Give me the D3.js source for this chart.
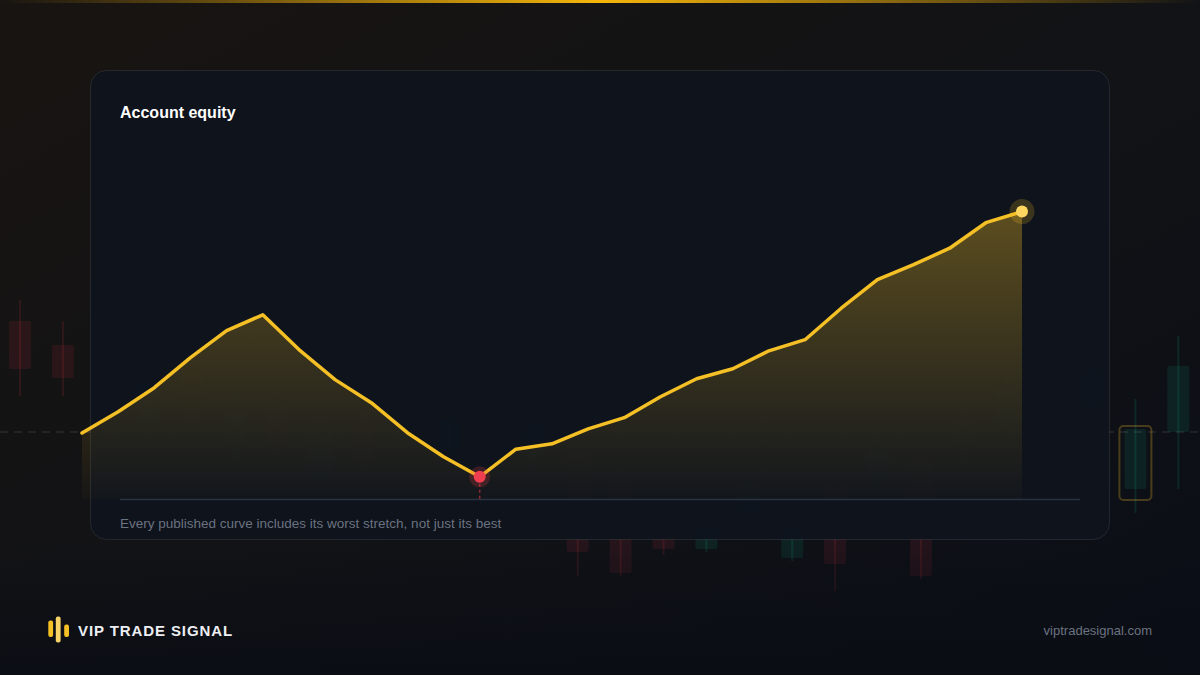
<!DOCTYPE html>
<html>
<head>
<meta charset="utf-8">
<script src="https://cdn.jsdelivr.net/npm/d3@7"></script>
<style>
html,body{margin:0;padding:0;background:#0c0f15;}
svg{display:block;}
text{font-family:"Liberation Sans",Arial,Helvetica,sans-serif;}
</style>
</head>
<body>
<svg id="chart" width="1200" height="675"></svg>
<script>
// ---------- DATA ----------
const title = "Account equity";
const footnote = "Every published curve includes its worst stretch, not just its best";
const brand = "VIP TRADE SIGNAL";
const site = "viptradesignal.com";

// equity curve (index = period, value = % of starting equity)
const periods = d3.range(27);
const equity = [100, 107.1, 115.1, 125.1, 134.1, 139.4, 127.8, 117.8, 110.1, 100.1, 92.1, 85.4,
                94.6, 96.4, 101.4, 105.1, 112.1, 118.1, 121.4, 127.4, 131.1, 141.6, 151.1, 156.1,
                161.6, 170.1, 173.8];

// decorative background candles (price units)
const candleOpen  = [193, 185, 170, 160, 176, 150, 165, 140, 158, 172, 150, 162, 148, 150, 140, 122, 117, 130, 114, 138, 140, 146, 150, 160, 170, 165, 137, 156];
const candleClose = [177, 174, 160, 172, 165, 162, 152, 155, 146, 160, 160, 150, 158, 116, 109, 117, 124, 138, 124, 112, 150, 108, 160, 170, 162, 176, 157, 178];
const candleHigh  = [200, 193, 176, 178, 182, 168, 170, 160, 162, 178, 166, 168, 164, 154, 144, 125, 127, 142, 127, 142, 156, 150, 166, 176, 175, 182, 167, 188];
const candleLow   = [168, 168, 154, 155, 160, 145, 148, 136, 140, 154, 146, 144, 142, 108, 108, 115, 116, 126, 113, 103, 136, 107, 146, 156, 156, 160, 129, 137];
const currentPrice = 156;

// ---------- SETUP ----------
const W = 1200, H = 675;
const svg = d3.select("#chart");
const defs = svg.append("defs");

const bgGrad = defs.append("linearGradient").attr("id","bg")
  .attr("x1","0").attr("y1","0").attr("x2","1").attr("y2","1");
bgGrad.append("stop").attr("offset","0").attr("stop-color","#181411");
bgGrad.append("stop").attr("offset","0.5").attr("stop-color","#121316");
bgGrad.append("stop").attr("offset","1").attr("stop-color","#0a0e16");

const topGrad = defs.append("linearGradient").attr("id","topline")
  .attr("x1","0").attr("y1","0").attr("x2","1").attr("y2","0");
topGrad.append("stop").attr("offset","0").attr("stop-color","#f5b50a").attr("stop-opacity",0);
topGrad.append("stop").attr("offset","0.5").attr("stop-color","#f5b50a").attr("stop-opacity",1);
topGrad.append("stop").attr("offset","1").attr("stop-color","#f5b50a").attr("stop-opacity",0);

const bottomShade = defs.append("linearGradient").attr("id","bottomShade")
  .attr("x1","0").attr("y1","0").attr("x2","0").attr("y2","1");
bottomShade.append("stop").attr("offset","0").attr("stop-color","#0a0d14").attr("stop-opacity",0);
bottomShade.append("stop").attr("offset","1").attr("stop-color","#0a0d14").attr("stop-opacity",0.9);

svg.append("rect").attr("width",W).attr("height",H).attr("fill","url(#bg)");

// ---------- BACKGROUND CANDLES ----------
const bgX = d3.scaleLinear().domain([0, 27]).range([20, 20 + 42.9*27]);
const bgY = d3.scaleLinear().domain([100, 200]).range([600, 300]);
const bgG = svg.append("g");

const candles = candleOpen.map((o,i)=>({i, o, c:candleClose[i], h:candleHigh[i], l:candleLow[i]}));
const cg = bgG.selectAll("g.candle").data(candles).join("g");
cg.append("line")
  .attr("x1",d=>bgX(d.i)).attr("x2",d=>bgX(d.i))
  .attr("y1",d=>bgY(d.h)).attr("y2",d=>bgY(d.l))
  .attr("stroke",d=>d.c>=d.o?"#12a57a":"#c53040")
  .attr("stroke-opacity",0.16).attr("stroke-width",2);
cg.append("rect")
  .attr("x",d=>bgX(d.i)-11).attr("width",22)
  .attr("y",d=>bgY(Math.max(d.o,d.c)))
  .attr("height",d=>Math.max(3,Math.abs(bgY(d.o)-bgY(d.c))))
  .attr("rx",2)
  .attr("fill",d=>d.c>=d.o?"#12a57a":"#c53040")
  .attr("fill-opacity",0.13);

// highlight on candle 26
const hl = candles[26];
bgG.append("rect")
  .attr("x",bgX(26)-16).attr("width",32)
  .attr("y",bgY(Math.max(hl.o,hl.c))-3)
  .attr("height",Math.abs(bgY(hl.o)-bgY(hl.c))+14)
  .attr("rx",4).attr("fill","none")
  .attr("stroke","#c99a2a").attr("stroke-opacity",0.32).attr("stroke-width",2);

// current price dashed line
bgG.append("line")
  .attr("x1",0).attr("x2",W).attr("y1",bgY(currentPrice)).attr("y2",bgY(currentPrice))
  .attr("stroke","#ffffff").attr("stroke-opacity",0.1).attr("stroke-dasharray","8,6").attr("stroke-width",1.5);

svg.append("rect").attr("x",0).attr("y",540).attr("width",W).attr("height",135).attr("fill","url(#bottomShade)");

// top gold line
svg.append("rect").attr("x",0).attr("y",0).attr("width",W).attr("height",3).attr("fill","url(#topline)");

// ---------- PANEL ----------
svg.append("rect")
  .attr("x",90.5).attr("y",70.5).attr("width",1019).attr("height",469).attr("rx",16)
  .attr("fill","#0e141d").attr("fill-opacity",0.97)
  .attr("stroke","#ffffff").attr("stroke-opacity",0.09).attr("stroke-width",1);

svg.append("text").attr("x",120).attr("y",118)
  .attr("fill","#ffffff").attr("font-size",16).attr("font-weight",700)
  .text(title);

svg.append("text").attr("x",120).attr("y",527.8)
  .attr("fill","#6b7280").attr("font-size",13.5)
  .text(footnote);

// ---------- CHART ----------
const x = d3.scaleLinear().domain([0, 26]).range([82, 1022]);
const y = d3.scaleLinear().domain([78, 178]).range([499, 199]);

const areaGrad = defs.append("linearGradient").attr("id","areaGrad")
  .attr("gradientUnits","userSpaceOnUse")
  .attr("x1",0).attr("x2",0).attr("y1",y(d3.max(equity))).attr("y2",y(78));
areaGrad.append("stop").attr("offset","0").attr("stop-color","#f5c026").attr("stop-opacity",0.34);
areaGrad.append("stop").attr("offset","1").attr("stop-color","#f5c026").attr("stop-opacity",0.02);

// baseline
svg.append("line").attr("x1",120).attr("x2",1080).attr("y1",y(78)+0.5).attr("y2",y(78)+0.5)
  .attr("stroke","#2a3342").attr("stroke-width",1.5);

const pts = periods.map(i=>({i, v:equity[i]}));
svg.append("path").datum(pts)
  .attr("fill","url(#areaGrad)")
  .attr("d", d3.area().x(d=>x(d.i)).y0(y(78)).y1(d=>y(d.v)));

svg.append("path").datum(pts)
  .attr("fill","none").attr("stroke","#f5c026").attr("stroke-width",3.5)
  .attr("stroke-linejoin","round").attr("stroke-linecap","round")
  .attr("d", d3.line().x(d=>x(d.i)).y(d=>y(d.v)));

// low point
const minIdx = d3.minIndex(equity);
svg.append("line")
  .attr("x1",x(minIdx)).attr("x2",x(minIdx)).attr("y1",y(equity[minIdx])+7).attr("y2",y(78))
  .attr("stroke","#e63946").attr("stroke-opacity",0.6).attr("stroke-width",1.5).attr("stroke-dasharray","3,3");
svg.append("circle").attr("cx",x(minIdx)).attr("cy",y(equity[minIdx])).attr("r",10.5)
  .attr("fill","#e63946").attr("fill-opacity",0.22);
svg.append("circle").attr("cx",x(minIdx)).attr("cy",y(equity[minIdx])).attr("r",6)
  .attr("fill","#ef3e50");

// end point
const last = equity.length-1;
svg.append("circle").attr("cx",x(last)).attr("cy",y(equity[last])).attr("r",12.5)
  .attr("fill","#f5c026").attr("fill-opacity",0.2);
svg.append("circle").attr("cx",x(last)).attr("cy",y(equity[last])).attr("r",6)
  .attr("fill","#ffd760");

// ---------- FOOTER ----------
const logo = [{x:48.3, y:620.5, h:16.5, c:"#f5c026"},{x:55.8, y:616.5, h:26, c:"#f7d36a"},{x:64.2, y:624.5, h:12.5, c:"#f5c026"}];
svg.selectAll("rect.logo").data(logo).join("rect")
  .attr("x",d=>d.x).attr("y",d=>d.y).attr("width",4.8).attr("height",d=>d.h).attr("rx",2)
  .attr("fill",d=>d.c);
svg.append("text").attr("x",78).attr("y",635.5)
  .attr("fill","#eceef2").attr("font-size",15).attr("font-weight",700).attr("letter-spacing",0.9)
  .text(brand);
svg.append("text").attr("x",1152).attr("y",634.5).attr("text-anchor","end")
  .attr("fill","#6b7280").attr("font-size",13)
  .text(site);
</script>
</body>
</html>
